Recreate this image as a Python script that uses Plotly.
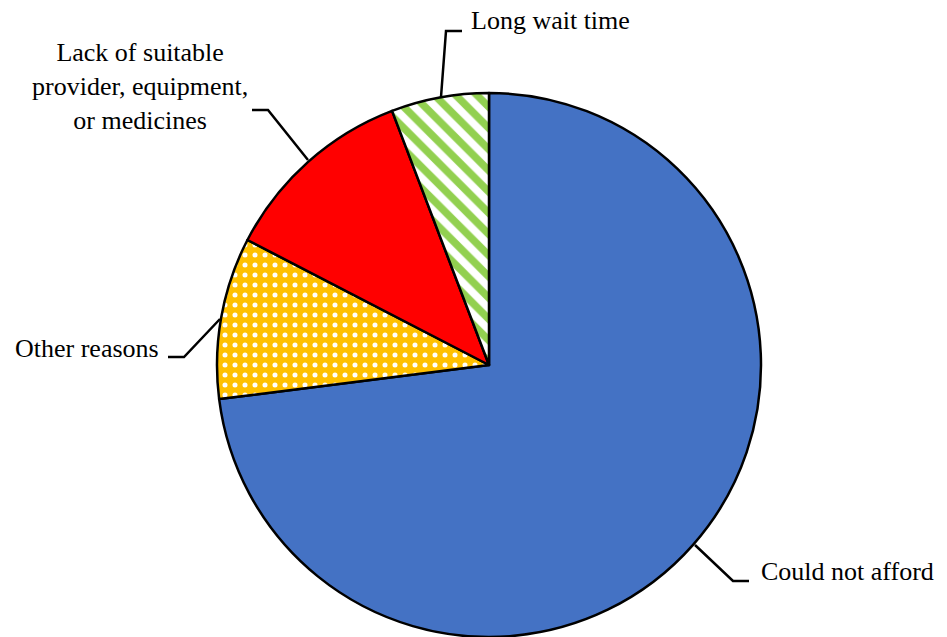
import plotly.graph_objects as go

categories = ["Could not afford", "Other reasons",
              "Lack of suitable<br>provider, equipment,<br>or medicines", "Long wait time"]
values = [73.0, 9.6, 11.6, 5.8]
colors = ["#4472C4", "#FFC000", "#FF0000", "#FFFFFF"]

W, H = 947, 637
FONT = "Liberation Serif"

fig = go.Figure()
fig.add_trace(go.Pie(
    labels=categories, values=values, sort=False, direction="clockwise", rotation=0,
    textinfo="none", hoverinfo="label+percent", showlegend=False,
    domain=dict(x=[216 / W, 762 / W], y=[0, 1 - 93 / H]),
    marker=dict(
        colors=colors,
        line=dict(color="black", width=2.5),
        pattern=dict(
            shape=["", ".", "", "\\"],
            fgcolor=["#4472C4", "#FFFFFF", "#FF0000", "#92D050"],
            bgcolor=["#4472C4", "#FFC000", "#FF0000", "#FFFFFF"],
            fillmode="replace",
            size=[8, 10, 8, 15],
            solidity=[0.3, 0.2, 0.3, 0.5],
        ),
    ),
))

# label positions & leader lines (pixel coordinates on a hidden full-figure axis)
label_specs = [
    dict(text=categories[0], x=759, y=571, xanchor="left",
         path=[(695, 545), (733, 581), (749, 581)]),
    dict(text=categories[1], x=161, y=348, xanchor="right",
         path=[(220, 319), (184, 357), (168, 357)]),
    dict(text=categories[2], x=140, y=86, xanchor="center",
         path=[(308, 160), (268, 110), (252, 110)]),
    dict(text=categories[3], x=469, y=20, xanchor="left",
         path=[(441, 97), (446, 31), (462, 31)]),
]
for s in label_specs:
    fig.add_annotation(x=s["x"], y=s["y"], text=s["text"], showarrow=False,
                       xref="x", yref="y", xanchor=s["xanchor"], yanchor="middle",
                       align="center", font=dict(family=FONT, size=26, color="black"))
    p = s["path"]
    d = "M " + " L ".join(f"{a},{b}" for a, b in p)
    fig.add_shape(type="path", path=d, xref="x", yref="y",
                  line=dict(color="black", width=2.5), layer="above")

fig.update_xaxes(range=[0, W], visible=False, fixedrange=True)
fig.update_yaxes(range=[H, 0], visible=False, fixedrange=True)
fig.update_layout(width=W, height=H, margin=dict(l=0, r=0, t=0, b=0),
                  paper_bgcolor="white", plot_bgcolor="rgba(0,0,0,0)",
                  font=dict(family=FONT))
fig.write_html("out.html", config={"displayModeBar": False},
               post_script="document.body.style.margin='0';document.body.style.overflow='hidden';")
